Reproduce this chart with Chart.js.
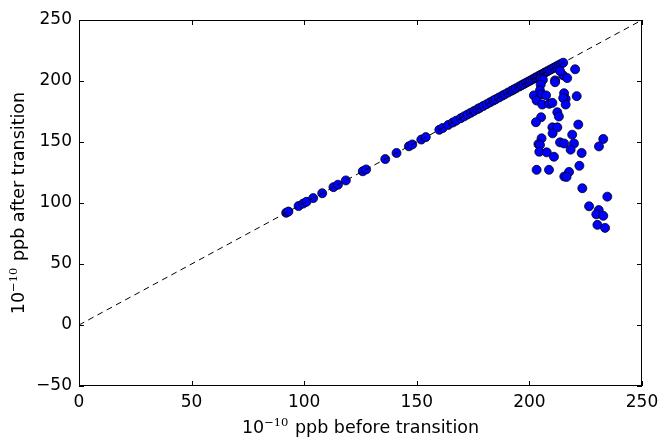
<!DOCTYPE html>
<html>
<head>
<meta charset="utf-8">
<script src="https://cdn.jsdelivr.net/npm/chart.js@4.4.1/dist/chart.umd.min.js"></script>
<style>
  html, body { margin: 0; padding: 0; background: #fff; }
  #wrap { width: 662px; height: 439px; }
</style>
</head>
<body>
<div id="wrap"><canvas id="c" width="662" height="439"></canvas></div>
<script>
// Concentration (1e-10 ppb) of each sample before and after the transition
const beforeTransition = [
  92, 93, 97.5, 99.5, 101, 104, 108, 113, 115, 118.5, 126, 127.5, 136, 141, 146.5, 148,
  152, 154, 160, 161.5, 164, 166, 167.5, 169.5, 171, 172.5, 174, 175.5, 177, 178, 179.5,
  181, 182.5, 184, 185, 186.5, 188, 189, 190.5, 192, 193, 194, 195.5, 196.5, 197.5, 198.5,
  199.5, 200.5, 201.5, 202.5, 203, 204, 205, 205.5, 206.5, 207, 208, 209, 210, 211, 212,
  213, 214, 215,
  205, 206, 205, 211.4, 211.4, 215, 216.8, 213.6, 204.7, 202, 205.4, 207.4, 203.2, 205.7,
  208.8, 210.2, 215.4, 216.1, 215, 216.1, 221, 220.3, 212.4, 213.1, 205.2, 202.9, 221.7,
  210.2, 212.4, 210.3, 219, 205.4, 204, 204.7, 213.6, 215.4, 219.8, 218.3, 232.8, 230.9,
  223.2, 204.4, 207.7, 210.9, 203.2, 208.7, 222.2, 217.6, 215.5, 216.5, 223.5, 234.6,
  226.5, 230.8, 229.7, 232.8, 230.2, 233.6
];
const afterTransition = [
  92, 93, 97.5, 99.5, 101, 104, 108, 113, 115, 118.5, 126, 127.5, 136, 141, 146.5, 148,
  152, 154, 160, 161.5, 164, 166, 167.5, 169.5, 171, 172.5, 174, 175.5, 177, 178, 179.5,
  181, 182.5, 184, 185, 186.5, 188, 189, 190.5, 192, 193, 194, 195.5, 196.5, 197.5, 198.5,
  199.5, 200.5, 201.5, 202.5, 203, 204, 205, 205.5, 206.5, 207, 208, 209, 210, 211, 212,
  213, 214, 215,
  202, 201, 197, 200.5, 199, 204.6, 202.4, 208.2, 192.3, 188.2, 189, 188.2, 184, 180.7,
  181.3, 182.1, 190, 185.4, 186, 180.7, 187.6, 209.6, 174.4, 170.9, 170.3, 166.2, 164.3,
  162, 162, 157.1, 156, 153, 148.3, 147.5, 149.7, 148.8, 148.8, 143.7, 152.5, 146.4,
  141, 142, 141.5, 137.9, 127.2, 127.2, 130.5, 125.5, 121.7, 121.4, 112.1, 105.2,
  97.3, 94.2, 90.7, 89.5, 82.1, 79.6
];
// Axis tick values
const xTicks = [0, 50, 100, 150, 200, 250];
const yTicks = [-50, 0, 50, 100, 150, 200, 250];
// Reference line y = x
const identityLine = [0, 250];

const FONT = 'DejaVu Sans';
const points = beforeTransition.map((x, i) => ({ x: x, y: afterTransition[i] }));
const fmt = v => (v < 0 ? '\u2212' + Math.abs(v) : String(v));

// Box frame with inward ticks on all four sides, plus axis titles with superscripts
const framePlugin = {
  id: 'frame',
  afterDraw(chart) {
    const { ctx, chartArea: a, scales } = chart;
    const L = 5;
    ctx.save();
    ctx.strokeStyle = '#000';
    ctx.lineWidth = 1;
    ctx.strokeRect(Math.round(a.left) + 0.5, Math.round(a.top) + 0.5,
                   Math.round(a.right - a.left) - 1, Math.round(a.bottom - a.top) - 1);
    ctx.beginPath();
    xTicks.forEach(v => {
      const px = Math.round(scales.x.getPixelForValue(v)) + 0.5;
      ctx.moveTo(px, a.bottom); ctx.lineTo(px, a.bottom - L);
      ctx.moveTo(px, a.top); ctx.lineTo(px, a.top + L);
    });
    yTicks.forEach(v => {
      const py = Math.round(scales.y.getPixelForValue(v)) + 0.5;
      ctx.moveTo(a.left, py); ctx.lineTo(a.left + L, py);
      ctx.moveTo(a.right, py); ctx.lineTo(a.right - L, py);
    });
    ctx.stroke();

    const drawTitle = (rest) => {
      const big = '17.5px "' + FONT + '"';
      const small = '11.5px "DejaVu Serif"';
      ctx.font = big; const w1 = ctx.measureText('10').width;
      const w3 = ctx.measureText(rest).width;
      ctx.font = small; const w2 = ctx.measureText('\u221210').width + 1;
      const total = w1 + w2 + w3;
      let x = -total / 2;
      ctx.textBaseline = 'alphabetic';
      ctx.textAlign = 'left';
      ctx.fillStyle = '#000';
      ctx.font = big; ctx.fillText('10', x, 0); x += w1;
      ctx.font = small; ctx.fillText('\u221210', x, -7.5); x += w2;
      ctx.font = big; ctx.fillText(rest, x, 0);
    };
    const cx = (a.left + a.right) / 2;
    const cy = (a.top + a.bottom) / 2;
    ctx.save();
    ctx.translate(cx, 433);
    drawTitle(' ppb before transition');
    ctx.restore();
    ctx.save();
    ctx.translate(24, cy);
    ctx.rotate(-Math.PI / 2);
    drawTitle(' ppb after transition');
    ctx.restore();
    ctx.restore();
  }
};

new Chart(document.getElementById('c'), {
  type: 'scatter',
  data: {
    datasets: [
      {
        type: 'line',
        data: identityLine.map(v => ({ x: v, y: v })),
        borderColor: '#000',
        borderWidth: 1,
        borderDash: [6, 4.5],
        pointRadius: 0,
        fill: false,
        order: 0
      },
      {
        data: points,
        backgroundColor: '#0000ff',
        borderColor: '#000',
        borderWidth: 0.8,
        pointRadius: 4.5,
        order: 1
      }
    ]
  },
  options: {
    responsive: false,
    animation: false,
    events: [],
    layout: { padding: { left: 0, right: 20, top: 20, bottom: 0 } },
    plugins: { legend: { display: false }, tooltip: { enabled: false } },
    scales: {
      x: {
        type: 'linear', min: 0, max: 250,
        afterBuildTicks: s => { s.ticks = xTicks.map(v => ({ value: v })); },
        afterFit: s => { s.height = 53; s.paddingLeft = 0; s.paddingRight = 0; },
        grid: { display: false, drawTicks: false },
        border: { display: false },
        ticks: { color: '#000', font: { family: FONT, size: 17 }, padding: 6, maxRotation: 0,
                 callback: v => fmt(v) }
      },
      y: {
        type: 'linear', min: -50, max: 250,
        afterBuildTicks: s => { s.ticks = yTicks.map(v => ({ value: v })); },
        afterFit: s => { s.width = 79; s.paddingTop = 0; s.paddingBottom = 0; },
        grid: { display: false, drawTicks: false },
        border: { display: false },
        ticks: { color: '#000', font: { family: FONT, size: 17 }, padding: 7,
                 callback: v => fmt(v) }
      }
    }
  },
  plugins: [framePlugin]
});
</script>
</body>
</html>
